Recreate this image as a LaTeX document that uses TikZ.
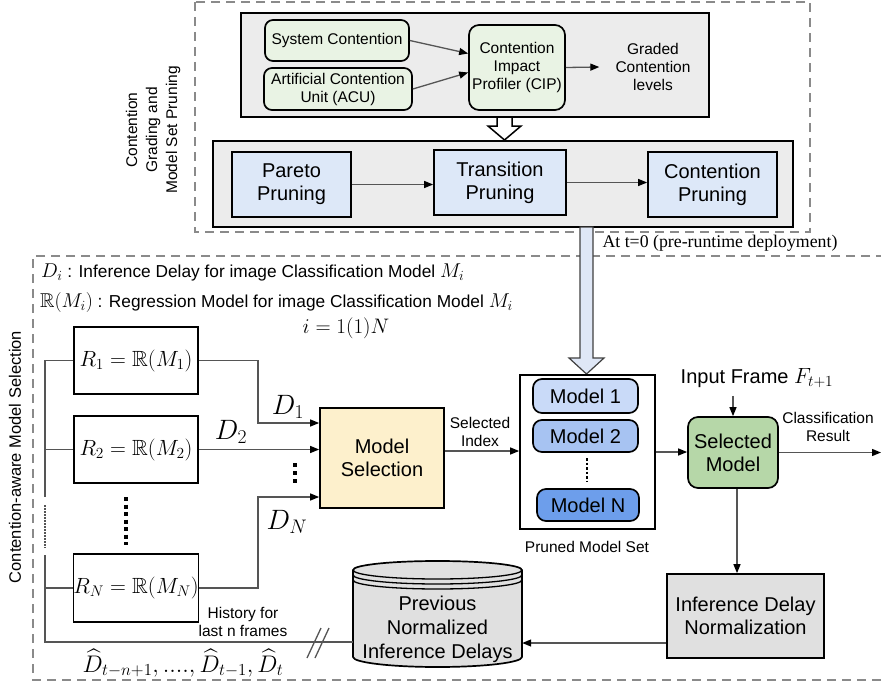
\RequirePackage{fix-cm}
\documentclass[tikz,border=0pt]{standalone}
\usepackage{amssymb}
\usepackage{fontspec}
\setmainfont{Liberation Sans}
\newfontfamily\serifT{Liberation Serif}
\usetikzlibrary{arrows.meta,calc}
\definecolor{grayBG}{HTML}{ECECEC}
\definecolor{grnL}{HTML}{E9F3E4}
\definecolor{bluL}{HTML}{DDE8F8}
\definecolor{yelL}{HTML}{FDF0CC}
\definecolor{mOne}{HTML}{C9DAF8}
\definecolor{mTwo}{HTML}{A7C3F2}
\definecolor{mEn}{HTML}{6D9EEB}
\definecolor{selG}{HTML}{B6D7A8}
\definecolor{idnG}{HTML}{E0E0E0}
\definecolor{arrB}{HTML}{DFE7F6}
\definecolor{dashG}{HTML}{8A8A8A}
\definecolor{lineG}{HTML}{555555}
\newcommand\szS{\fontsize{15.5pt}{18pt}\selectfont}
\newcommand\szL{\fontsize{20pt}{23pt}\selectfont}
\newcommand\szM{\fontsize{20pt}{22pt}\selectfont}
\newcommand\szT{\fontsize{17.3pt}{19pt}\selectfont}
\newcommand\szD{\fontsize{28pt}{30pt}\selectfont}
\begin{document}
\begin{tikzpicture}[x=1pt,y=-1pt,
  ln/.style={draw=lineG, line width=1.3pt},
  arr/.style={ln, -{Triangle[length=9pt,width=7pt,color=black]}},
  bx/.style={draw=black, line width=1.7pt, inner sep=0pt, align=center},
  dsh/.style={draw=dashG, line width=1.3pt, dash pattern=on 9pt off 6pt},
  lbl/.style={inner sep=0pt, align=center}]
\useasboundingbox (0,0) rectangle (881,685);
% dashed frames
\draw[dsh] (195,2) rectangle (810,232);
\draw[dsh] (885,256) -- (33,256) -- (33,680) -- (885,680);
% top section
\node[bx, fill=grayBG, minimum width=468pt, minimum height=104pt] (ctop) at (475,65) {};
\node[bx, fill=grayBG, minimum width=580pt, minimum height=86pt] (cbot) at (503,184) {};
\node[bx, rounded corners=8pt, fill=grnL, minimum width=144pt, minimum height=41pt, font=\szS] (sys) at (337,40.5) {System Contention};
\node[bx, rounded corners=8pt, fill=grnL, minimum width=148pt, minimum height=42pt, font=\szS] (acu) at (338,89) {Artificial Contention\\Unit (ACU)};
\node[bx, rounded corners=10pt, fill=grnL, minimum width=96pt, minimum height=85pt, font=\szS] (cip) at (517,67.5) {Contention\\Impact\\Profiler (CIP)};
\node[lbl, font=\szS] (grd) at (653,67) {Graded\\Contention\\levels};
\draw[arr] (sys.east) -- ([yshift=14pt]cip.west);
\draw[arr] (acu.east) -- ([yshift=-5pt]cip.west);
\draw[arr] (cip.east) -- ([xshift=-16pt]grd.west);
\draw[draw=black, line width=1.5pt, fill=white] (497,117) -- (497,126) -- (488,126) -- (504.5,140) -- (521,126) -- (512,126) -- (512,117) -- cycle;
\node[bx, fill=bluL, minimum width=119pt, minimum height=65pt, font=\szL] (par) at (291.5,184.5) {Pareto\\Pruning};
\node[bx, fill=bluL, minimum width=132pt, minimum height=65pt, font=\szL] (tra) at (500,182.5) {Transition\\Pruning};
\node[bx, fill=bluL, minimum width=129pt, minimum height=65pt, font=\szL] (cpr) at (712.5,184.5) {Contention\\Pruning};
\draw[arr] (par.east) -- (par.east -| tra.west);
\draw[arr] (tra.east) -- (tra.east -| cpr.west);
\node[rotate=90, lbl, font={\fontsize{15.5pt}{20pt}\selectfont}] (lblA) at (153,130) {Contention\\Grading and\\Model Set Pruning};
\node[lbl, font={\serifT\fontsize{17.8pt}{20pt}\selectfont}] (tzero) at (720,243) {At t=0 (pre-runtime deployment)};
% big arrow
\draw[draw=black!75, line width=1.2pt, fill=arrB] (580,227) -- (580,358) -- (569,358) -- (586.5,374) -- (604,358) -- (593,358) -- (593,227) -- cycle;
% legend
\node[anchor=west, inner sep=0pt] (lg1) at (41,272) {{\szM$D_i$}{\szT\ : Inference Delay for image Classification Model }{\szM$M_i$}};
\node[anchor=west, inner sep=0pt] (lg2) at (40,302) {{\szM$\mathbb{R}(M_i)$}{\szT\ : Regression Model for image Classification Model }{\szM$M_i$}};
\node[lbl, font={\fontsize{21pt}{24pt}\selectfont}] (ieq) at (346,328) {$i=1(1)N$};
\node[rotate=90, lbl, font={\fontsize{16.5pt}{18pt}\selectfont}] (lblB) at (15,457) {Contention-aware Model Selection};
% regression boxes
\node[bx, minimum width=124pt, minimum height=67pt, font={\fontsize{22pt}{24pt}\selectfont}] (R1) at (136,360.5) {$R_1=\mathbb{R}(M_1)$};
\node[bx, minimum width=124pt, minimum height=67pt, font={\fontsize{22pt}{24pt}\selectfont}] (R2) at (136,449.5) {$R_2=\mathbb{R}(M_2)$};
\node[bx, minimum width=124pt, minimum height=68pt, font={\fontsize{22pt}{24pt}\selectfont}] (RN) at (136,588) {$R_N=\mathbb{R}(M_N)$};
\draw[line width=4.5pt, dash pattern=on 4pt off 3.5pt] (126,497) -- (126,545);
% model selection
\node[bx, fill=yelL, minimum width=124pt, minimum height=100pt, font=\szL] (ms) at (382,458) {Model\\Selection};
\draw[arr] (R1.east) -| (258,423) -- ([yshift=35pt]ms.west);
\draw[arr] (R2.east) -- (R2.east -| ms.west);
\draw[arr] (RN.east) -| (258,497) -- ([yshift=-39pt]ms.west);
\node[lbl, font=\szD] (d1) at (288,407) {$D_1$};
\node[lbl, font=\szD] (d2) at (231,432) {$D_2$};
\node[lbl, font=\szD] (dn) at (287,522) {$D_N$};
\draw[line width=4.5pt, dash pattern=on 4pt off 4pt] (295,463) -- (295,484);
% pruned set
\node[bx, fill=white, minimum width=135pt, minimum height=154pt] (ps) at (587.5,452) {};
\node[bx, rounded corners=9pt, fill=mOne, minimum width=105pt, minimum height=34pt, font=\szL] (m1) at (585.5,396) {Model 1};
\node[bx, rounded corners=9pt, fill=mTwo, minimum width=105pt, minimum height=32pt, font=\szL] (m2) at (585.5,436) {Model 2};
\node[bx, rounded corners=9pt, fill=mEn, minimum width=102pt, minimum height=32pt, font=\szL] (mn) at (588,505) {Model N};
\draw[line width=2.5pt, dash pattern=on 2.5pt off 2pt] (587,458) -- (587,481);
\node[lbl, font=\szS] (psl) at (587,547) {Pruned Model Set};
\draw[arr] ([yshift=7pt]ms.east) -- ([yshift=7pt]ms.east -| ps.west);
\node[lbl, font=\szS] (sidx) at (480,432) {Selected\\Index};
% selected model
\node[bx, rounded corners=10pt, fill=selG, minimum width=90pt, minimum height=71pt, font=\szL] (sm) at (733,452.5) {Selected\\Model};
\node[lbl, font=\szL] (inp) at (757,378) {Input Frame {\fontsize{22pt}{24pt}\selectfont$F_{t+1}$}};
\draw[arr] ([yshift=-8pt]inp.south -| sm.north) -- (sm.north);
\draw[arr] (ps.east) -- (ps.east -| sm.west);
\node[lbl, font=\szS] (cres) at (828,427) {Classification\\Result};
\coordinate (outR) at (881,452.5);
\draw[arr] (sm.east) -- (outR);
% normalization
\node[bx, fill=idnG, minimum width=157pt, minimum height=84pt, font=\szL] (idn) at (745.5,616) {Inference Delay\\Normalization};
\draw[arr] ([xshift=4pt]sm.south) -- ([xshift=4pt]sm.south |- idn.north);
% cylinder
\filldraw[fill=idnG, draw=black, line width=1.7pt] (353,570) -- (353,657) arc[start angle=180, end angle=360, x radius=84.5pt, y radius=10pt] -- (522,570) arc[start angle=0, end angle=180, x radius=84.5pt, y radius=9pt] -- cycle;
\draw[black, line width=1.3pt] (353,570) arc[start angle=180, end angle=360, x radius=84.5pt, y radius=9pt];
\draw[black, line width=1.3pt] (353,575) arc[start angle=180, end angle=360, x radius=84.5pt, y radius=9pt];
\draw[black, line width=1.3pt] (353,580) arc[start angle=180, end angle=360, x radius=84.5pt, y radius=9pt];
\node[lbl, font={\fontsize{20pt}{24pt}\selectfont}, minimum width=169pt, minimum height=105pt] (cyl) at (437.5,629) {Previous\\Normalized\\Inference Delays};
\draw[arr] ([yshift=-27pt]idn.west) -- ([yshift=-27pt]idn.west -| cyl.east);
% history bus
\draw[ln] ([yshift=-13pt]cyl.west) -- (45,642) -- (45,555);
\draw[ln] (R1.west) -- (45,360.5) -- (45,497);
\draw[ln] (R2.west) -- (45,449.5);
\draw[ln] (RN.west) -- (45,588);
\draw[ln, dash pattern=on 1.5pt off 1.5pt] (45,505) -- (45,548);
\draw[ln] (307,658) -- (321,628);
\draw[ln] (315,658) -- (329,628);
\node[lbl, font=\szS] (hist) at (243,622) {History for\\last n frames};
\node[lbl, font={\fontsize{24pt}{26pt}\selectfont}] (dhat) at (183,663) {$\widehat{D}_{t-n+1}, ...., \widehat{D}_{t-1}, \widehat{D}_t$};
\end{tikzpicture}
\end{document}
